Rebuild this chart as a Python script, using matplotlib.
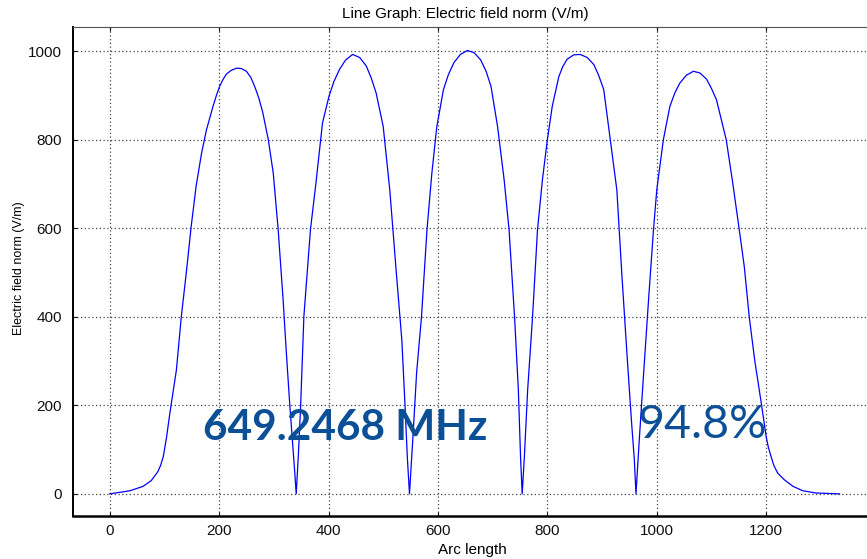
import matplotlib.pyplot as plt

# arc length (x) and electric field norm (V/m)
arc_length = [0, 37, 61, 76, 88, 93, 98, 104, 110, 122, 131, 140, 149, 158, 168, 177, 189, 195, 201, 207,
              213, 222, 232, 241, 250, 258, 265, 273, 280, 290, 299, 308, 317, 323, 329, 334, 338, 341,
              345, 349, 355, 367, 377, 389, 401, 410, 420, 431, 444, 457, 469, 478, 487, 500, 512, 524,
              534, 540, 544, 548,
              554, 561, 570, 580, 589, 598, 610, 619, 629, 641, 654, 666, 678, 688, 697, 709, 721, 730,
              740, 747, 751, 754,
              758, 764, 773, 782, 791, 800, 809, 821, 828, 836, 848, 860, 873, 885, 894, 903, 915, 927,
              936, 945, 954, 959, 962,
              968, 976, 985, 994, 1000, 1012, 1024, 1033, 1042, 1054, 1067, 1079, 1091, 1100, 1109, 1127,
              1139, 1151, 1160, 1169, 1179, 1191, 1200, 1204, 1209, 1214, 1221, 1233, 1249, 1267, 1291, 1334]
e_norm = [0, 7, 17, 30, 50, 64, 84, 128, 182, 280, 401, 499, 604, 695, 770, 823, 876, 900, 921, 936,
          948, 957, 962, 961, 955, 941, 921, 893, 861, 800, 725, 597, 439, 318, 205, 122, 54, 0,
          90, 197, 401, 597, 702, 838, 899, 932, 959, 980, 993, 986, 967, 940, 906, 830, 687, 499,
          348, 197, 84, 0,
          122, 273, 401, 597, 726, 830, 913, 947, 974, 993, 1002, 997, 981, 955, 921, 830, 710, 597,
          401, 235, 84, 0,
          84, 235, 401, 597, 710, 800, 876, 943, 965, 982, 992, 993, 986, 970, 945, 914, 800, 687,
          499, 326, 160, 77, 0,
          122, 273, 439, 597, 687, 800, 876, 906, 928, 946, 955, 951, 937, 916, 891, 800,
          701, 595, 513, 400, 302, 205, 129, 105, 84, 64, 47, 32, 17, 7, 2, 0]

x_ticks = [0, 200, 400, 600, 800, 1000, 1200]
y_ticks = [0, 200, 400, 600, 800, 1000]

freq_text = "649.2468 MHz"
ratio_text = "94.8%"

plt.rcParams['font.family'] = ['Liberation Sans', 'DejaVu Sans']

W, H = 867, 559
fig = plt.figure(figsize=(W / 100, H / 100), dpi=100)
ax = fig.add_axes([73 / W, (H - 516) / H, 807 / W, 489 / H])

ax.plot(arc_length, e_norm, color='#0000ff', lw=0.9)

ax.set_xlim(-67, 1408)
ax.set_ylim(-50, 1055)
ax.set_xticks(x_ticks)
ax.set_yticks(y_ticks)
ax.grid(True, color='#444444', linestyle=(0, (1, 2)), lw=0.9)

ax.tick_params(direction='in', length=3, labelsize=11, colors='#111111', top=True)
ax.tick_params(axis='y', pad=8)
ax.tick_params(axis='x', pad=6)

ax.spines['left'].set_linewidth(1.4)
ax.spines['bottom'].set_linewidth(1.8)
ax.spines['top'].set_color('#555555')
ax.spines['right'].set_visible(False)

fig.text(465 / W, (H - 14) / H, "Line Graph: Electric field norm (V/m)",
         ha='center', va='center', fontsize=11)
fig.text(472 / W, (H - 550) / H, "Arc length", ha='center', va='center', fontsize=11)
fig.text(19 / W, (H - 268) / H, "Electric field norm (V/m)", rotation=90,
         ha='center', va='center', fontsize=9)

fig.text(203 / W, (H - 440) / H, freq_text, family='Lato', fontweight='bold',
         fontsize=30.5, color='#0b4f96', ha='left', va='baseline')
fig.text(638 / W, (H - 438) / H, ratio_text, family='Lato',
         fontsize=33.5, color='#0b4f96', ha='left', va='baseline')

fig.savefig('out.png', dpi=100)
